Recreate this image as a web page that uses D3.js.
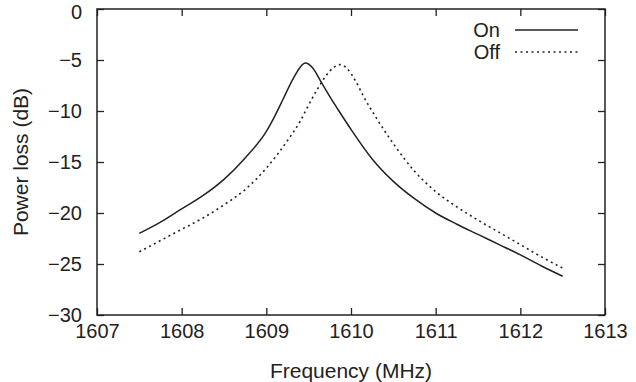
<!DOCTYPE html>
<html>
<head>
<meta charset="utf-8">
<script src="https://cdn.jsdelivr.net/npm/d3@7"></script>
<style>
  body { margin: 0; background: #fff; }
  text { font-family: "Liberation Sans", Arial, sans-serif; fill: #222; }
</style>
</head>
<body>
<svg id="chart" width="636" height="382"></svg>
<script>
// frequency (MHz) and power loss (dB)
const freqOn = [1607.5, 1607.75, 1608.0, 1608.25, 1608.5, 1608.75, 1609.0, 1609.1, 1609.2, 1609.3, 1609.4, 1609.46,
                1609.55, 1609.65, 1609.75, 1609.85, 1610.0, 1610.25, 1610.5, 1610.75, 1611.0, 1611.25, 1611.5, 1611.75, 1612.0, 1612.25, 1612.5]
const lossOn = [-22.0, -20.9, -19.6, -18.3, -16.7, -14.6, -12.0, -10.5, -8.8, -7.1, -5.7, -5.3,
                -5.8, -7.2, -8.6, -9.9, -11.8, -14.7, -16.9, -18.6, -20.0, -21.1, -22.1, -23.1, -24.1, -25.2, -26.2]

const freqOff = [1607.5, 1607.75, 1608.0, 1608.25, 1608.5, 1608.75, 1609.0, 1609.25, 1609.4, 1609.5, 1609.6, 1609.7,
                 1609.8, 1609.87, 1609.95, 1610.05, 1610.15, 1610.3, 1610.5, 1610.75, 1611.0, 1611.25, 1611.5, 1611.75, 1612.0, 1612.25, 1612.5]
const lossOff = [-23.8, -22.7, -21.6, -20.5, -19.2, -17.7, -15.6, -12.9, -11.0, -9.4, -7.9, -6.6,
                 -5.7, -5.45, -5.8, -7.0, -8.6, -10.7, -13.2, -15.9, -17.9, -19.4, -20.7, -21.9, -23.1, -24.3, -25.4]

const xTicks = [1607, 1608, 1609, 1610, 1611, 1612, 1613]
const yTicks = [0, -5, -10, -15, -20, -25, -30]

const dimensions = {
  width: 636,
  height: 382,
  margin: { top: 9, right: 31, bottom: 67, left: 97 },
}

const svg = d3.select("#chart")

const xScale = d3.scaleLinear()
  .domain([1607, 1613])
  .range([dimensions.margin.left, dimensions.width - dimensions.margin.right])

const yScale = d3.scaleLinear()
  .domain([-30, 0])
  .range([dimensions.height - dimensions.margin.bottom, dimensions.margin.top])

const x0 = xScale.range()[0], x1 = xScale.range()[1]
const y0 = yScale.range()[0], y1 = yScale.range()[1]

// axes with inward ticks, mirrored on top and right
const tickLen = 7
svg.append("g")
  .attr("transform", `translate(0,${y0})`)
  .call(d3.axisBottom(xScale).tickValues(xTicks).tickSize(-tickLen).tickPadding(9).tickFormat(d3.format("d")))
  .call(g => g.select(".domain").remove())
  .attr("font-size", 20)
  .attr("font-family", "Liberation Sans, Arial, sans-serif")

svg.append("g")
  .attr("transform", `translate(${x0},0)`)
  .call(d3.axisLeft(yScale).tickValues(yTicks).tickSize(-tickLen).tickPadding(15))
  .call(g => g.select(".domain").remove())
  .attr("font-size", 20)
  .attr("font-family", "Liberation Sans, Arial, sans-serif")
  .call(g => g.selectAll(".tick text").filter(d => d === 0).attr("y", 3)) // keep the top label inside the page

svg.append("g")
  .attr("transform", `translate(0,${y1})`)
  .call(d3.axisTop(xScale).tickValues(xTicks).tickSize(-tickLen).tickFormat(""))
  .call(g => g.select(".domain").remove())

svg.append("g")
  .attr("transform", `translate(${x1},0)`)
  .call(d3.axisRight(yScale).tickValues(yTicks).tickSize(-tickLen).tickFormat(""))
  .call(g => g.select(".domain").remove())

svg.selectAll(".tick line").attr("stroke", "#222").attr("stroke-width", 1.3)
svg.selectAll(".tick text").attr("fill", "#222")

svg.append("rect")
  .attr("x", x0).attr("y", y1)
  .attr("width", x1 - x0).attr("height", y0 - y1)
  .attr("fill", "none").attr("stroke", "#222").attr("stroke-width", 1.5)

const line = d3.line()
  .x(d => xScale(d[0]))
  .y(d => yScale(d[1]))
  .curve(d3.curveMonotoneX)

svg.append("path")
  .datum(freqOn.map((f, i) => [f, lossOn[i]]))
  .attr("d", line)
  .attr("fill", "none")
  .attr("stroke", "#222")
  .attr("stroke-width", 1.5)

svg.append("path")
  .datum(freqOff.map((f, i) => [f, lossOff[i]]))
  .attr("d", line)
  .attr("fill", "none")
  .attr("stroke", "#222")
  .attr("stroke-width", 1.6)
  .attr("stroke-dasharray", "2,3.5")

// legend
const legend = [{ name: "On", dash: null, y: 30 }, { name: "Off", dash: "2,3.5", y: 52 }]
legend.forEach(l => {
  svg.append("text")
    .text(l.name)
    .attr("x", 500).attr("y", l.y + 7)
    .attr("text-anchor", "end")
    .attr("font-size", 20)
  svg.append("line")
    .attr("x1", 515).attr("x2", 578)
    .attr("y1", l.y).attr("y2", l.y)
    .attr("stroke", "#222").attr("stroke-width", 1.5)
    .attr("stroke-dasharray", l.dash)
})

svg.append("text")
  .text("Frequency (MHz)")
  .attr("x", (x0 + x1) / 2)
  .attr("y", 378)
  .attr("text-anchor", "middle")
  .attr("font-size", 21)

svg.append("text")
  .text("Power loss (dB)")
  .attr("x", -(y0 + y1) / 2)
  .attr("y", 28)
  .attr("text-anchor", "middle")
  .attr("font-size", 21)
  .attr("transform", "rotate(-90)")
</script>
</body>
</html>
